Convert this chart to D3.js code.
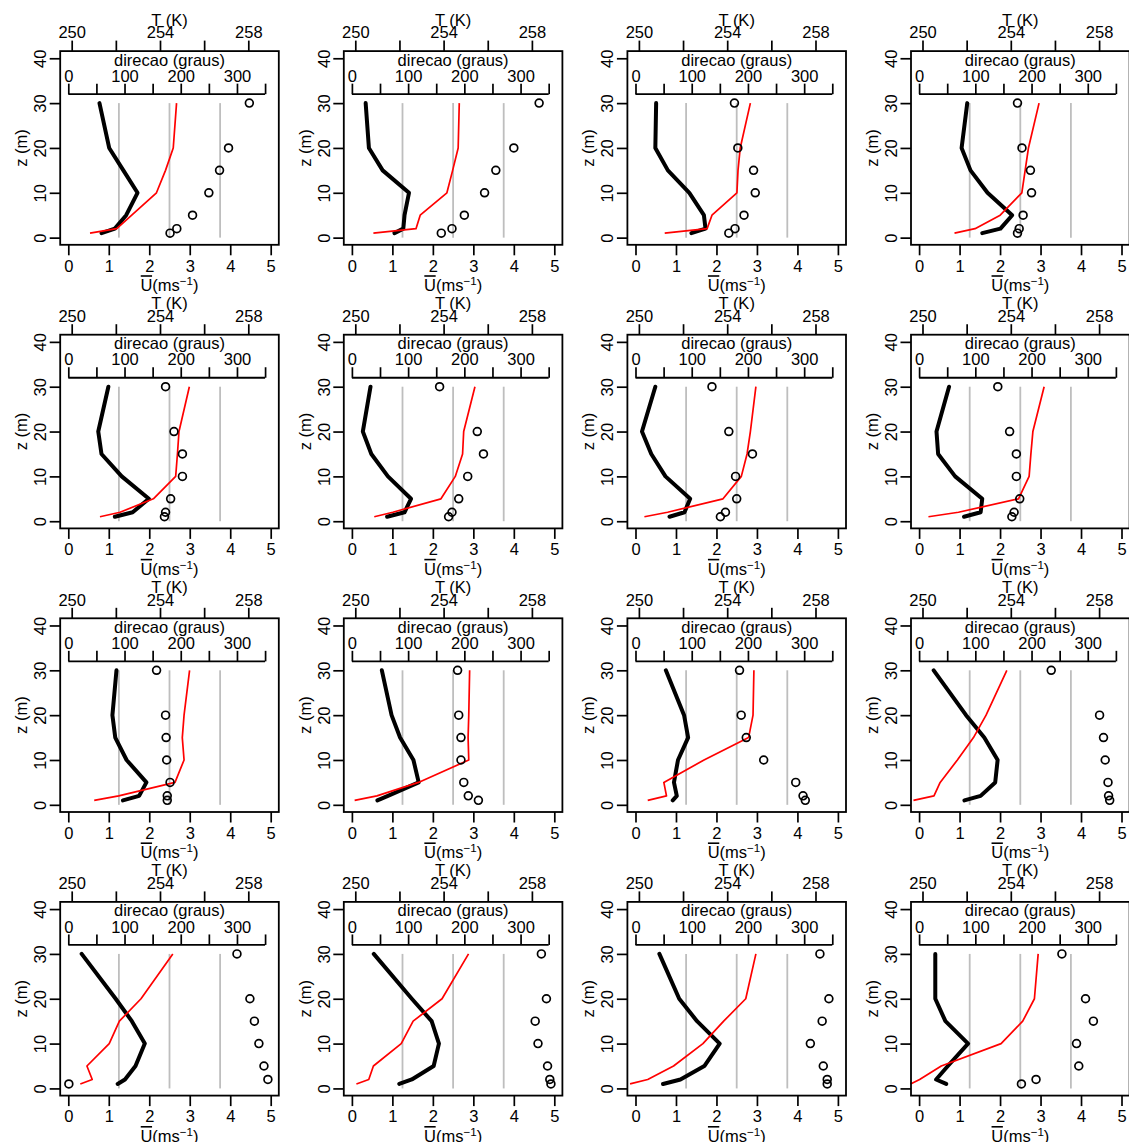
<!DOCTYPE html>
<html>
<head>
<meta charset="utf-8">
<script src="https://cdn.jsdelivr.net/npm/d3@7"></script>
<style>
  body { margin: 0; background: #fff; }
  svg text { font-family: "Liberation Sans", Arial, Helvetica, sans-serif; }
</style>
</head>
<body>
<svg id="chart"></svg>
<script>
// Measurement heights (m), shared by every profile
const heights = [1, 2, 5, 10, 15, 20, 30];

// Mean wind speed (m/s) per profile, ordered by height
const windSpeed = [
  [0.82, 1.15, 1.43, 1.71, 1.36, 1.01, 0.77],
  [1.05, 1.27, 1.30, 1.41, 0.76, 0.42, 0.34],
  [1.38, 1.73, 1.69, 1.33, 0.80, 0.49, 0.51],
  [1.56, 2.01, 2.30, 1.69, 1.27, 1.05, 1.19],
  [1.15, 1.59, 1.99, 1.32, 0.82, 0.74, 0.99],
  [0.87, 1.30, 1.46, 0.89, 0.48, 0.27, 0.46],
  [0.84, 1.21, 1.35, 0.74, 0.39, 0.16, 0.49],
  [1.11, 1.52, 1.56, 0.89, 0.47, 0.43, 0.74],
  [1.35, 1.75, 1.93, 1.44, 1.16, 1.09, 1.19],
  [0.63, 0.89, 1.65, 1.52, 1.19, 0.98, 0.74],
  [0.92, 1.02, 0.95, 1.05, 1.30, 1.20, 0.75],
  [1.12, 1.52, 1.88, 1.94, 1.61, 1.16, 0.36],
  [1.22, 1.40, 1.66, 1.89, 1.57, 1.17, 0.33],
  [1.17, 1.48, 2.02, 2.15, 1.97, 1.48, 0.54],
  [0.68, 1.11, 1.70, 2.08, 1.52, 1.08, 0.59],
  [0.67, 0.42, 0.71, 1.21, 0.65, 0.40, 0.40]
];

// Air temperature (K) per profile, ordered by height
const temperature = [
  [250.83, 252.04, 252.72, 253.84, 254.25, 254.60, 254.75],
  [250.82, 252.75, 252.94, 254.15, 254.41, 254.66, 254.71],
  [251.17, 253.09, 253.31, 254.44, 254.49, 254.59, 255.05],
  [251.45, 252.38, 253.52, 254.50, 254.65, 254.80, 255.28],
  [251.28, 252.19, 253.70, 254.71, 254.79, 254.86, 255.33],
  [250.86, 251.70, 253.88, 254.53, 254.86, 254.91, 255.42],
  [250.25, 251.30, 253.81, 254.64, 254.90, 255.05, 255.30],
  [250.27, 251.63, 254.35, 254.83, 254.91, 255.00, 255.51],
  [251.02, 252.13, 254.68, 255.09, 255.01, 255.09, 255.34],
  [249.97, 250.98, 252.86, 255.14, 255.11, 255.14, 255.18],
  [250.40, 251.25, 251.13, 252.95, 254.97, 255.17, 255.21],
  [249.59, 250.52, 250.80, 251.58, 252.31, 252.88, 253.82],
  [250.39, 250.93, 250.69, 251.70, 252.16, 253.14, 254.58],
  [250.05, 250.61, 250.82, 252.08, 252.62, 253.93, 255.13],
  [249.60, 250.40, 251.57, 252.90, 253.84, 254.84, 255.30],
  [249.46, 249.87, 250.85, 253.56, 254.54, 255.07, 255.24]
];

// Wind direction (degrees) per profile, ordered by height
const direction = [
  [181, 193, 221, 250, 269, 285, 322],
  [159, 178, 200, 236, 256, 288, 333],
  [166, 177, 193, 213, 210, 182, 176],
  [175, 178, 185, 200, 198, 183, 175],
  [171, 173, 182, 203, 203, 188, 173],
  [172, 178, 190, 206, 234, 223, 156],
  [151, 160, 180, 178, 208, 166, 136],
  [165, 169, 179, 173, 173, 161, 140],
  [176, 176, 181, 175, 174, 173, 157],
  [225, 207, 199, 194, 194, 190, 188],
  [302, 298, 285, 228, 197, 188, 185],
  [339, 337, 336, 331, 328, 321, 235],
  [1, 355, 348, 339, 331, 323, 300],
  [354, 352, 348, 331, 326, 346, 337],
  [341, 341, 334, 311, 332, 344, 328],
  [182, 208, 284, 280, 310, 296, 254]
];

// Axis ticks and labels
const speedTicks = [0, 1, 2, 3, 4, 5];
const heightTicks = [0, 10, 20, 30, 40];
const tempTicks = [250, 252, 254, 256, 258];
const tempLabels = [250, 254, 258];
const dirTicks = [0, 50, 100, 150, 200, 250, 300, 350];
const dirLabels = [0, 100, 200, 300];
const refDirections = [90, 180, 270];
const dirAxisHeight = 32;

// ---- layout ----
const W = 1129, H = 1142;
const PANEL = 283.6, COLS = 4;
const box = { left: 60.2, right: 278.8, top: 51.1, bottom: 244.8 };
const FONT = 16.5, TICK = 10.5;
const FAMILY = '"Liberation Sans", Arial, Helvetica, sans-serif';
const cx = (box.left + box.right) / 2;

const svg = d3.select("#chart").attr("width", W).attr("height", H);
svg.append("rect").attr("width", W).attr("height", H).attr("fill", "#fff");

const x = d3.scaleLinear().domain([-0.2, 5.2]).range([box.left, box.right]);
const y = d3.scaleLinear().domain([-1.6, 41.6]).range([box.bottom, box.top]);
const xT = d3.scaleLinear()
  .domain([250, 258])
  .range([x(0) + 3.4, x(0) + 3.4 + 8 * 22.075]);
const xD = d3.scaleLinear().domain([0, 360]).range([x(0), x(5)]);

function styleAxis(sel) {
  sel.select(".domain").remove();
  sel.attr("font-family", FAMILY).attr("font-size", FONT);
  sel.selectAll(".tick line").attr("stroke", "#000").attr("stroke-width", 1.7);
  sel.selectAll(".tick text").attr("fill", "#000").attr("dy", 0);
}

windSpeed.forEach((_, i) => {
  const g = svg.append("g")
    .attr("transform", `translate(${(i % COLS) * PANEL},${Math.floor(i / COLS) * PANEL})`);

  // reference directions 90, 180, 270 degrees
  g.selectAll("line.ref").data(refDirections).join("line")
    .attr("class", "ref")
    .attr("x1", d => xD(d)).attr("x2", d => xD(d))
    .attr("y1", y(0)).attr("y2", y(30))
    .attr("stroke", "#bebebe").attr("stroke-width", 1.8);

  // wind speed profile
  g.append("path")
    .datum(d3.zip(windSpeed[i], heights))
    .attr("d", d3.line().x(d => x(d[0])).y(d => y(d[1])))
    .attr("fill", "none").attr("stroke", "#000")
    .attr("stroke-width", 4).attr("stroke-linejoin", "round").attr("stroke-linecap", "round");

  // temperature profile
  g.append("path")
    .datum(d3.zip(temperature[i], heights))
    .attr("d", d3.line().x(d => xT(d[0])).y(d => y(d[1])))
    .attr("fill", "none").attr("stroke", "#ff0000")
    .attr("stroke-width", 1.7).attr("stroke-linejoin", "round");

  // wind direction points
  g.selectAll("circle").data(d3.zip(direction[i], heights)).join("circle")
    .attr("cx", d => xD(d[0])).attr("cy", d => y(d[1]))
    .attr("r", 3.9).attr("fill", "none")
    .attr("stroke", "#000").attr("stroke-width", 1.7);

  // plot frame
  g.append("rect")
    .attr("x", box.left).attr("y", box.top)
    .attr("width", box.right - box.left).attr("height", box.bottom - box.top)
    .attr("fill", "none").attr("stroke", "#000").attr("stroke-width", 1.8);

  // bottom: wind speed
  const ax1 = g.append("g").attr("transform", `translate(0,${box.bottom})`)
    .call(d3.axisBottom(x).tickValues(speedTicks).tickSize(TICK).tickFormat(d3.format("d")));
  styleAxis(ax1);
  ax1.selectAll(".tick text").attr("y", 26.9);

  // left: height
  const ax2 = g.append("g").attr("transform", `translate(${box.left},0)`)
    .call(d3.axisLeft(y).tickValues(heightTicks).tickSize(TICK).tickFormat(d3.format("d")));
  styleAxis(ax2);
  ax2.selectAll(".tick text")
    .attr("x", 0).attr("y", 0)
    .attr("text-anchor", "middle")
    .attr("transform", "translate(-14.2,0) rotate(-90)");

  // top: temperature
  const ax3 = g.append("g").attr("transform", `translate(0,${box.top})`)
    .call(d3.axisTop(xT).tickValues(tempTicks).tickSize(TICK)
      .tickFormat(d => tempLabels.includes(d) ? d : ""));
  styleAxis(ax3);
  ax3.selectAll(".tick text").attr("y", -12.8);

  // inner: direction
  const yd = y(dirAxisHeight);
  const ax4 = g.append("g").attr("transform", `translate(0,${yd})`)
    .call(d3.axisTop(xD).tickValues(dirTicks).tickSize(TICK)
      .tickFormat(d => dirLabels.includes(d) ? d : ""));
  styleAxis(ax4);
  ax4.selectAll(".tick text").attr("y", -12.4);
  ax4.append("line")
    .attr("x1", xD(dirTicks[0])).attr("x2", xD(dirTicks[dirTicks.length - 1]))
    .attr("stroke", "#000").attr("stroke-width", 1.8);

  // titles
  g.append("text").attr("x", cx).attr("y", 25.5)
    .attr("text-anchor", "middle").attr("font-size", FONT).text("T (K)");
  g.append("text").attr("x", cx).attr("y", 65.7)
    .attr("text-anchor", "middle").attr("font-size", FONT).text("direcao (graus)");
  g.append("text")
    .attr("transform", `translate(27,${(box.top + box.bottom) / 2}) rotate(-90)`)
    .attr("text-anchor", "middle").attr("font-size", FONT).text("z (m)");

  const ut = g.append("text").attr("x", cx).attr("y", 291)
    .attr("text-anchor", "middle").attr("font-size", FONT);
  ut.append("tspan").text("U(ms");
  ut.append("tspan").attr("font-size", 11.6).attr("dy", -6).text("\u22121");
  ut.append("tspan").attr("dy", 6).text(")");
  const ext = ut.node().getExtentOfChar(0);
  g.append("line")
    .attr("x1", ext.x + 0.3).attr("x2", ext.x + ext.width - 0.3)
    .attr("y1", 276).attr("y2", 276)
    .attr("stroke", "#000").attr("stroke-width", 1.6);
});
</script>
</body>
</html>
